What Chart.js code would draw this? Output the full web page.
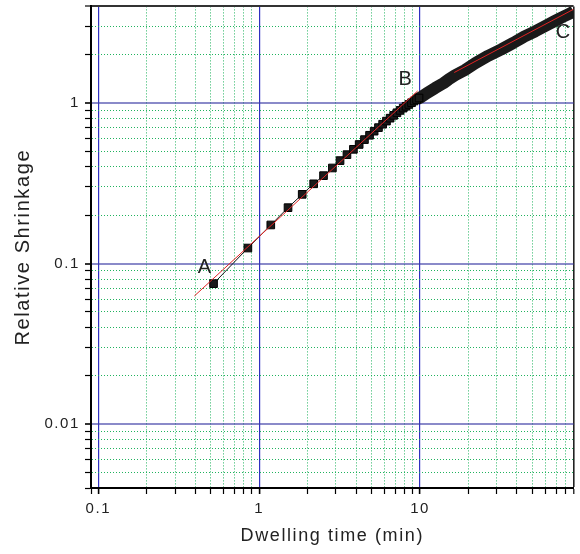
<!DOCTYPE html>
<html>
<head>
<meta charset="utf-8">
<script src="https://cdn.jsdelivr.net/npm/chart.js@4.4.1/dist/chart.umd.min.js"></script>
<style>
    html, body { margin: 0; padding: 0; background: #fff; }
    #wrap { width: 580px; height: 554px; }
</style>
</head>
<body>
<div id="wrap"><canvas id="shrinkage-chart" width="580" height="554"></canvas></div>
<script>
// Relative shrinkage vs dwelling time (log-log)

// Measured points, drawn as square markers (every ~20 s up to 10 min)
const dwellTimes = [0.52, 0.85, 1.18, 1.51, 1.85, 2.18, 2.51, 2.85, 3.18, 3.51,
    3.85, 4.18, 4.51, 4.85, 5.18, 5.51, 5.85, 6.18, 6.51, 6.85,
    7.18, 7.51, 7.85, 8.18, 8.51, 8.85, 9.18, 9.51, 9.85];
const shrinkage = [0.075, 0.125, 0.174, 0.223, 0.270, 0.314, 0.353, 0.394, 0.438, 0.477,
    0.515, 0.552, 0.592, 0.630, 0.668, 0.703, 0.738, 0.772, 0.805, 0.838,
    0.870, 0.900, 0.930, 0.955, 0.980, 1.005, 1.030, 1.052, 1.075];

// Later part: markers so dense they merge into a solid band
const bandTimes = [9.51, 10, 11, 12.4, 14, 15, 16.5, 18.9, 22, 26.5, 32, 38, 44, 52, 60, 69, 78, 87, 90];
const bandShrinkage = [1.052, 1.08, 1.15, 1.24, 1.33, 1.40, 1.49, 1.60, 1.77, 1.97, 2.16, 2.37, 2.58, 2.80, 3.02, 3.25, 3.46, 3.65, 3.72];

// Fitted power-law lines (red)
const fitLowTimes = [0.395, 9.66];
const fitLowValues = [0.0628, 1.19];
const fitHighTimes = [16.3, 90];
const fitHighValues = [1.55, 3.84];

// Stage labels
const stageNames = ['A', 'B', 'C'];
const stageTimes = [0.456, 8.07, 77.4];
const stageValues = [0.095, 1.41, 2.77];

// Axes
const xRange = [0.09, 90];
const yRange = [0.004, 4];
const xTickValues = [0.09, 0.1, 0.2, 0.3, 0.4, 0.5, 0.6, 0.7, 0.8, 0.9,
    1, 2, 3, 4, 5, 6, 7, 8, 9, 10, 20, 30, 40, 50, 60, 70, 80, 90];
const yTickValues = [0.004, 0.005, 0.006, 0.007, 0.008, 0.009,
    0.01, 0.02, 0.03, 0.04, 0.05, 0.06, 0.07, 0.08, 0.09,
    0.1, 0.2, 0.3, 0.4, 0.5, 0.6, 0.7, 0.8, 0.9, 1, 2, 3, 4];
const xTickLabels = ['0.1', '1', '10'];
const yTickLabels = ['0.01', '0.1', '1'];

const FONT = '"Liberation Sans", Arial, Helvetica, sans-serif';

function toPoints(xs, ys) {
    return xs.map((x, i) => ({x: x, y: ys[i]}));
}

function near(a, b) {
    return Math.abs(Math.log10(a) - Math.log10(b)) < 1e-6;
}

function isDecade(v) {
    const l = Math.log10(v);
    return Math.abs(l - Math.round(l)) < 1e-6;
}

function labelFor(labels, value) {
    const hit = labels.find(s => near(parseFloat(s), value));
    return hit || '';
}

function gridStyle(range, majorColor, majorWidth, edgeColor, edgeWidth) {
    return {
        color: function(ctx) {
            const v = ctx.tick && ctx.tick.value;
            if (v === undefined) return '#000';
            if (near(v, range[0])) return '#000';
            if (near(v, range[1])) return edgeColor;
            return isDecade(v) ? majorColor : 'rgba(20, 175, 85, 0.95)';
        },
        lineWidth: function(ctx) {
            const v = ctx.tick && ctx.tick.value;
            if (v === undefined) return 1;
            if (near(v, range[1])) return edgeWidth;
            return isDecade(v) ? majorWidth : 1;
        },
        tickColor: '#000',
        tickWidth: function(ctx) {
            const v = ctx.tick && ctx.tick.value;
            return (v !== undefined && isDecade(v)) ? 1.6 : 1.2;
        },
        tickLength: 6,
        drawTicks: true
    };
}

function gridDash(range) {
    return function(ctx) {
        const v = ctx.tick && ctx.tick.value;
        if (v === undefined) return [];
        if (isDecade(v) || near(v, range[0]) || near(v, range[1])) return [];
        return [1, 2];
    };
}

// Canvas letter spacing (the reference text is slightly spread)
const letterSpacingPlugin = {
    id: 'letterSpacing',
    beforeUpdate(chart) { chart.ctx.letterSpacing = '1.6px'; },
    beforeDraw(chart) { chart.ctx.letterSpacing = '1.6px'; }
};

// A / B / C markers placed in data coordinates
const stageLabelPlugin = {
    id: 'stageLabels',
    afterDatasetsDraw(chart) {
        const {ctx, scales: {x, y}} = chart;
        ctx.save();
        ctx.letterSpacing = '0px';
        ctx.font = '20px ' + FONT;
        ctx.fillStyle = '#222';
        ctx.textAlign = 'center';
        ctx.textBaseline = 'middle';
        stageNames.forEach((name, i) => {
            ctx.fillText(name, x.getPixelForValue(stageTimes[i]), y.getPixelForValue(stageValues[i]));
        });
        ctx.restore();
    }
};

Chart.defaults.font.family = FONT;
Chart.defaults.color = '#222';

const ctx = document.getElementById('shrinkage-chart').getContext('2d');
const shrinkageChart = new Chart(ctx, {
    type: 'line',
    data: {
        datasets: [
            {
                label: 'Fit (initial stage)',
                data: toPoints(fitLowTimes, fitLowValues),
                borderColor: 'rgb(225, 35, 35)',
                borderWidth: 1,
                pointRadius: 0,
                fill: false,
                order: 0
            },
            {
                label: 'Fit (final stage)',
                data: toPoints(fitHighTimes, fitHighValues),
                borderColor: 'rgb(225, 35, 35)',
                borderWidth: 1,
                pointRadius: 0,
                fill: false,
                order: 0
            },
            {
                label: 'Measured',
                data: toPoints(dwellTimes, shrinkage),
                borderColor: '#111',
                borderWidth: 1,
                pointStyle: 'rect',
                pointRadius: 5.4,
                pointBackgroundColor: '#1a1a1a',
                pointBorderColor: '#000',
                pointBorderWidth: 1,
                fill: false,
                order: 1
            },
            {
                label: 'Measured (dense)',
                data: toPoints(bandTimes, bandShrinkage),
                borderColor: '#1a1a1a',
                borderWidth: 12,
                borderJoinStyle: 'round',
                borderCapStyle: 'butt',
                pointRadius: 0,
                fill: false,
                order: 2
            }
        ]
    },
    options: {
        responsive: false,
        animation: false,
        layout: {
            padding: {top: 4, right: 4, left: 0, bottom: 0}
        },
        plugins: {
            legend: {display: false},
            tooltip: {enabled: false}
        },
        scales: {
            x: {
                type: 'logarithmic',
                min: xRange[0],
                max: xRange[1],
                afterBuildTicks: function(scale) {
                    scale.ticks = xTickValues.map(v => ({value: v, major: isDecade(v)}));
                },
                afterFit: function(scale) {
                    scale.height = 66;
                    scale.paddingLeft = 0;
                    scale.paddingRight = 0;
                },
                ticks: {
                    autoSkip: false,
                    maxRotation: 0,
                    padding: 6,
                    font: {size: 15},
                    color: '#222',
                    callback: function(value) {
                        return labelFor(xTickLabels, value);
                    }
                },
                grid: gridStyle(xRange, '#3030c0', 1.2, '#222', 1.6),
                border: {color: '#000', width: 2, dash: gridDash(xRange)},
                title: {
                    display: true,
                    text: 'Dwelling time (min)',
                    font: {size: 18},
                    color: '#222',
                    padding: {top: 0, bottom: 7}
                }
            },
            y: {
                type: 'logarithmic',
                min: yRange[0],
                max: yRange[1],
                afterBuildTicks: function(scale) {
                    scale.ticks = yTickValues.map(v => ({value: v, major: isDecade(v)}));
                },
                afterFit: function(scale) {
                    scale.width = 91;
                    scale.paddingTop = 0;
                    scale.paddingBottom = 0;
                },
                ticks: {
                    autoSkip: false,
                    padding: 5,
                    font: {size: 15},
                    color: '#222',
                    callback: function(value) {
                        return labelFor(yTickLabels, value);
                    }
                },
                grid: gridStyle(yRange, 'rgba(60, 60, 165, 0.6)', 2, '#333', 2),
                border: {color: '#000', width: 2, dash: gridDash(yRange)},
                title: {
                    display: true,
                    text: 'Relative Shrinkage',
                    font: {size: 20},
                    color: '#222',
                    padding: {top: 11, bottom: 0}
                }
            }
        }
    },
    plugins: [letterSpacingPlugin, stageLabelPlugin]
});
</script>
</body>
</html>
